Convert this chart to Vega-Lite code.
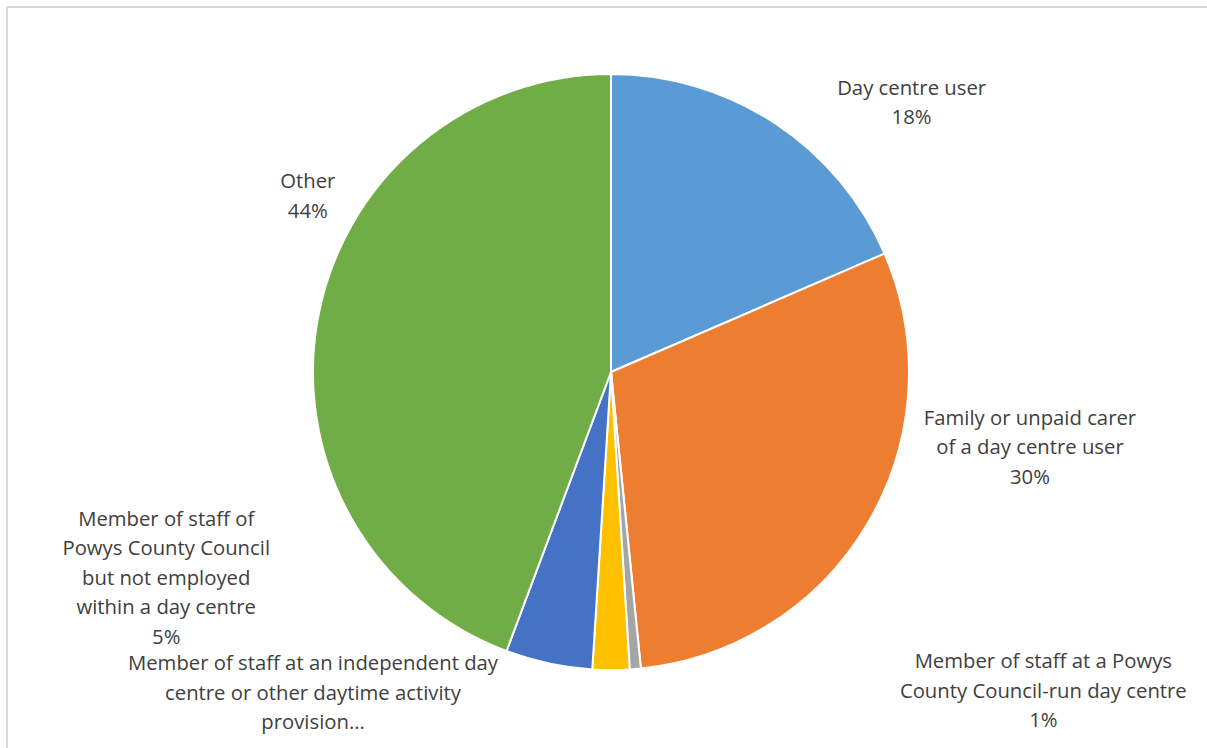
{
  "$schema": "https://vega.github.io/schema/vega-lite/v6.json",
  "autosize": {"type": "none"},
  "padding": {"left": 7, "top": 7, "right": 0, "bottom": 0},
  "width": 1200,
  "height": 741,
  "background": "white",
  "view": {"stroke": "#D9D9D9", "strokeWidth": 2, "strokeDash": [1200, 1941, 741, 0]},
  "config": {
    "text": {"font": "Open Sans", "fontSize": 20.3, "color": "#404040"}
  },
  "data": {
    "values": [
      {"order": 1, "category": "Day centre user", "share": 18.5, "label": "Day centre user\n18%"},
      {"order": 2, "category": "Family or unpaid carer of a day centre user", "share": 29.9, "label": "Family or unpaid carer\nof a day centre user\n30%"},
      {"order": 3, "category": "Member of staff at a Powys County Council-run day centre", "share": 0.6, "label": "Member of staff at a Powys\nCounty Council-run day centre\n1%"},
      {"order": 4, "category": "Member of staff at an independent day centre or other daytime activity provision", "share": 2.0, "label": "Member of staff at an independent day\ncentre or other daytime activity\nprovision…"},
      {"order": 5, "category": "Member of staff of Powys County Council but not employed within a day centre", "share": 4.7, "label": "Member of staff of\nPowys County Council\nbut not employed\nwithin a day centre\n5%"},
      {"order": 6, "category": "Other", "share": 44.3, "label": "Other\n44%"}
    ]
  },
  "encoding": {
    "theta": {"field": "share", "type": "quantitative", "stack": true},
    "order": {"field": "order", "type": "quantitative"}
  },
  "layer": [
    {
      "mark": {"type": "arc", "outerRadius": 298, "stroke": "white", "strokeWidth": 2, "xOffset": 4, "yOffset": -5.5},
      "encoding": {
        "color": {
          "field": "category", "type": "nominal", "legend": null, "sort": null,
          "scale": {
            "domain": ["Day centre user", "Family or unpaid carer of a day centre user", "Member of staff at a Powys County Council-run day centre", "Member of staff at an independent day centre or other daytime activity provision", "Member of staff of Powys County Council but not employed within a day centre", "Other"],
            "range": ["#5B9BD5", "#ED7D31", "#A5A5A5", "#FFC000", "#4472C4", "#70AD47"]
          }
        }
      }
    },
    {
      "mark": {"type": "text", "radius": 298, "lineBreak": "\n", "lineHeight": 29.5, "align": "center", "baseline": "middle", "dx": 141, "dy": -39.5},
      "encoding": {"text": {"condition": {"test": "datum.order === 1", "field": "label"}, "value": ""}}
    },
    {
      "mark": {"type": "text", "radius": 298, "lineBreak": "\n", "lineHeight": 29.5, "align": "center", "baseline": "middle", "dx": 166, "dy": -109.5},
      "encoding": {"text": {"condition": {"test": "datum.order === 2", "field": "label"}, "value": ""}}
    },
    {
      "mark": {"type": "text", "radius": 298, "lineBreak": "\n", "lineHeight": 29.5, "align": "center", "baseline": "middle", "dx": 412, "dy": -12.5},
      "encoding": {"text": {"condition": {"test": "datum.order === 3", "field": "label"}, "value": ""}}
    },
    {
      "mark": {"type": "text", "radius": 298, "lineBreak": "\n", "lineHeight": 29.5, "align": "center", "baseline": "middle", "dx": -294, "dy": -11.5},
      "encoding": {"text": {"condition": {"test": "datum.order === 4", "field": "label"}, "value": ""}}
    },
    {
      "mark": {"type": "text", "radius": 298, "lineBreak": "\n", "lineHeight": 29.5, "align": "center", "baseline": "middle", "dx": -378.5, "dy": -149},
      "encoding": {"text": {"condition": {"test": "datum.order === 5", "field": "label"}, "value": ""}}
    },
    {
      "mark": {"type": "text", "radius": 298, "lineBreak": "\n", "lineHeight": 29.5, "align": "center", "baseline": "middle", "dx": -6, "dy": -142},
      "encoding": {"text": {"condition": {"test": "datum.order === 6", "field": "label"}, "value": ""}}
    }
  ]
}
